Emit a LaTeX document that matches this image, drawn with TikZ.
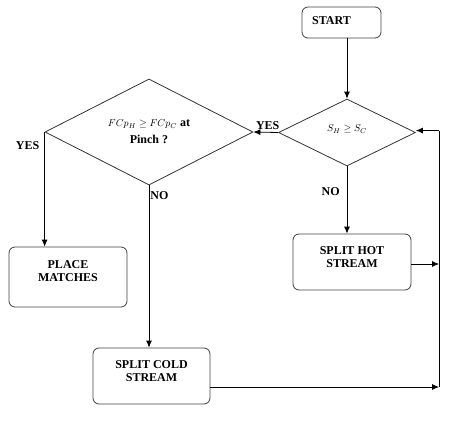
\documentclass[tikz,border=0pt]{standalone}
\usepackage{fontspec}
\setmainfont{Liberation Serif}
\usetikzlibrary{shapes.geometric,arrows.meta}

\newcommand{\mtxt}[1]{{\fontsize{10}{12}\selectfont$#1$}}

\tikzset{
  caja/.style={draw=black!75, line width=0.8pt, rounded corners=6pt, align=center,
    font=\fontsize{12}{13}\selectfont\bfseries},
  rombo/.style={diamond, draw=black!80, line width=0.8pt, inner sep=0pt, align=center,
    font=\fontsize{12}{14}\selectfont\bfseries},
  flecha/.style={line width=0.8pt, -{Latex[length=7pt,width=6pt]}},
  linea/.style={line width=0.8pt},
  etiq/.style={font=\fontsize{12}{14}\selectfont\bfseries, inner sep=1pt}
}

\begin{document}
\begin{tikzpicture}[x=1pt,y=1pt]
\useasboundingbox (0,0) rectangle (459,-421);

% Bloques
\node[caja, minimum width=79pt, minimum height=31pt] (start) at (341.5,-22.5) {\raisebox{3pt}{\hspace*{-20pt}START}};
\node[rombo, minimum width=137pt, minimum height=67pt] (cs) at (347,-132.5) {\raisebox{8pt}{\mtxt{S_H \geq S_C}}};
\node[rombo, minimum width=208pt, minimum height=81pt] (cp) at (149,-132) {\raisebox{3pt}{\mtxt{FCp_H \geq FCp_C} at}\\Pinch ?};
\node[caja, minimum width=118pt, minimum height=60pt, text depth=12pt] (place) at (68,-277) {PLACE\\MATCHES};
\node[caja, minimum width=117pt, minimum height=56pt, text depth=10pt] (cold) at (151.5,-376) {SPLIT COLD\\STREAM};
\node[caja, minimum width=118pt, minimum height=56pt, text depth=10pt] (hot) at (352,-262) {SPLIT HOT\\STREAM};

% Puntos de salida y retorno
\coordinate (hs) at ([yshift=-2pt]hot.east);
\coordinate (cs2) at ([yshift=-11pt]cold.east);
\coordinate (ce) at ([yshift=2pt]cs.east);
\coordinate (rt) at (439,0);

% Conexiones
\draw[flecha] (cs.north |- start.south) -- (cs.north);
\draw[flecha] (cs.west) -- node[etiq, above, xshift=2pt, yshift=1pt] {YES} (cp.east);
\draw[flecha] (cp.west) -- node[etiq, pos=0.12, left, xshift=-4pt] {YES} (cp.west |- place.north);
\draw[flecha] (cp.south) -- node[etiq, pos=0.06, right] {NO} (cp.south |- cold.north);
\draw[flecha] (cs.south) -- node[etiq, pos=0.38, left, xshift=-6pt] {NO} (cs.south |- hot.north);
\draw[flecha] (hs) -- (rt |- hs);
\draw[flecha] (cs2) -- (rt |- cs2);
\draw[linea] (rt |- cs2) -- (rt |- ce);
\draw[flecha] (rt |- ce) -- (ce);
\end{tikzpicture}
\end{document}
